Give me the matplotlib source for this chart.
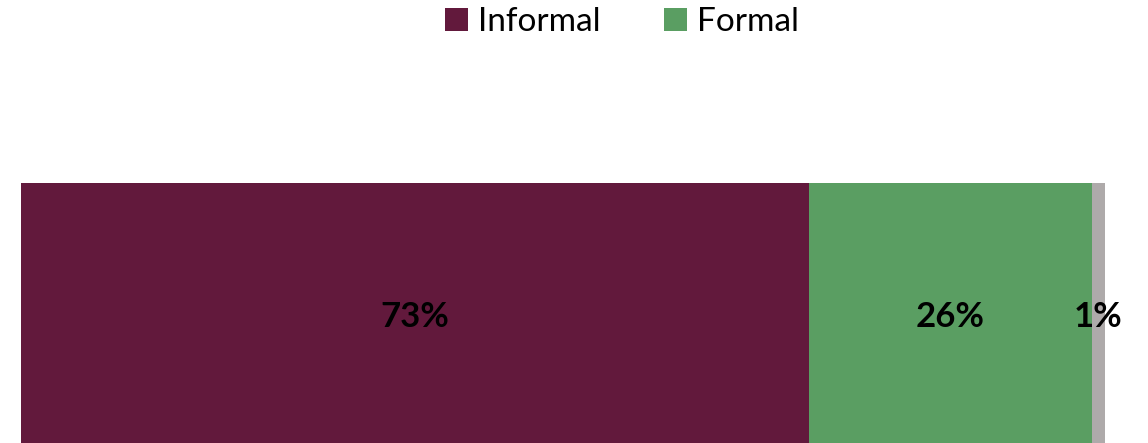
import matplotlib
matplotlib.use("Agg")
import matplotlib.pyplot as plt
from matplotlib.patches import Patch

plt.rcParams['font.family'] = ['Lato', 'DejaVu Sans']

# share of employment (%)
categories = ['Informal', 'Formal', 'Other']
shares = [72.7, 26.1, 1.2]
labels = ['73%', '26%', '1%']
colors = ['#62193c', '#5a9e62', '#aeaaaa']

fig = plt.figure(figsize=(11.48, 4.43), dpi=100)
# bar runs off the bottom edge of the figure
ax = fig.add_axes([21/1148, -8/443, 1084/1148, 268/443])

left = 0
for cat, val, lab, col in zip(categories, shares, labels, colors):
    ax.barh(0, val, left=left, height=1.0, color=col, label=cat)
    ax.text(left + val / 2, 0, lab, ha='center', va='center',
            fontsize=25, fontweight='bold', color='black')
    left += val

ax.set_xlim(0, sum(shares))
ax.set_ylim(-0.5, 0.5)
ax.axis('off')

handles = [Patch(facecolor=c, edgecolor='none') for c in colors[:2]]
fig.legend(handles, categories[:2], loc='center', bbox_to_anchor=(622/1148, 1 - 22/443),
           ncol=2, frameon=False, fontsize=24, handlelength=0.7, handleheight=0.7,
           handletextpad=0.3, columnspacing=1.9, borderpad=0)

fig.savefig('out.png', dpi=100)
